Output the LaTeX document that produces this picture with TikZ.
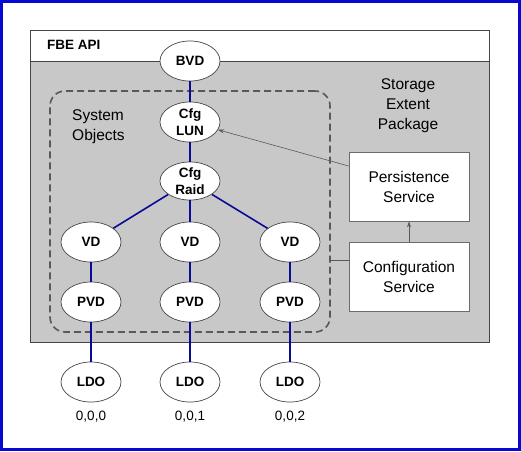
\documentclass[tikz,border=0pt]{standalone}
\usepackage{fontspec}
\setmainfont{Liberation Sans}
\usetikzlibrary{arrows.meta,calc,shapes.geometric}
\definecolor{frameblue}{RGB}{8,8,210}
\definecolor{pkggray}{RGB}{200,200,200}
\definecolor{linkblue}{RGB}{10,10,150}
\definecolor{edgegray}{RGB}{70,70,70}
\begin{document}
\begin{tikzpicture}[x=1pt,y=-1pt,
  obj/.style={ellipse,draw=edgegray,fill=white,line width=0.7pt,minimum width=60pt,minimum height=40pt,inner sep=0pt,font=\fontsize{13.5}{16.5}\selectfont\bfseries,align=center},
  svc/.style={rectangle,draw=edgegray!80,fill=white,line width=0.7pt,minimum width=120pt,minimum height=69pt,inner sep=0pt,font=\fontsize{15.5}{20}\selectfont,align=center},
  link/.style={draw=linkblue,line width=1.6pt},
  thin/.style={draw=edgegray!90,line width=0.6pt},
  lbl/.style={font=\fontsize{15.5}{20}\selectfont,align=center,inner sep=0pt}
]
\useasboundingbox (0,0) rectangle (521,451);
\fill[white] (0,0) rectangle (521,451);
\draw[frameblue,line width=3pt] (1.5,1.5) rectangle (519.5,449.5);
% FBE API package
\draw[edgegray,line width=0.8pt,fill=white] (30,30) rectangle (489,342);
\draw[edgegray,line width=0.8pt,fill=pkggray] (30,61) rectangle (489,342);
\node[anchor=west,font=\fontsize{13.5}{16}\selectfont\bfseries,inner sep=0pt] (api) at (47,45) {FBE API};
% system objects dashed box
\node[draw=edgegray!90,dash pattern=on 7pt off 4pt,line width=1.6pt,rounded corners=15pt,minimum width=280pt,minimum height=241pt,inner sep=0pt] (sys) at (190,211.5) {};
\node[lbl,align=left,anchor=west] (systxt) at (72,127) {System\\Objects};
\node[lbl] (sep) at (408,106) {Storage\\Extent\\Package};
% services
\node[svc] (pers) at (409,186.5) {Persistence\\Service};
\node[svc] (conf) at (409,277) {Configuration\\Service};
% objects
\node[obj] (bvd) at (190,61) {BVD};
\node[obj] (lun) at (190,122) {Cfg\\LUN};
\node[obj,minimum height=38pt] (raid) at (190,181) {Cfg\\Raid};
\node[obj] (vd1) at (91,242) {VD};
\node[obj] (vd2) at (190,242) {VD};
\node[obj] (vd3) at (290,242) {VD};
\node[obj] (pvd1) at (91,302) {PVD};
\node[obj] (pvd2) at (190,302) {PVD};
\node[obj] (pvd3) at (290,302) {PVD};
\node[obj] (ldo1) at (91,382) {LDO};
\node[obj] (ldo2) at (190,382) {LDO};
\node[obj] (ldo3) at (290,382) {LDO};
\node[lbl,font=\fontsize{13.5}{16}\selectfont] (a1) at (91,417) {0,0,0};
\node[lbl,font=\fontsize{13.5}{16}\selectfont] (a2) at (190,417) {0,0,1};
\node[lbl,font=\fontsize{13.5}{16}\selectfont] (a3) at (290,417) {0,0,2};
% blue links
\path[link] (bvd) -- (lun);
\path[link] (lun) -- (raid);
\path[link] (raid) -- (vd1);
\path[link] (raid) -- (vd2);
\path[link] (raid) -- (vd3);
\path[link] (vd1) -- (pvd1);
\path[link] (vd2) -- (pvd2);
\path[link] (vd3) -- (pvd3);
\path[link] (pvd1) -- (ldo1);
\path[link] (pvd2) -- (ldo2);
\path[link] (pvd3) -- (ldo3);
% gray connectors
\coordinate (pfrom) at ([yshift=20.5pt]pers.west);
\path[thin,-{Stealth[length=6pt,width=4pt]}] (pfrom) -- (lun);
\path[thin,-{Stealth[length=6pt,width=4pt]}] (conf) -- (pers);
\coordinate (cfrom) at ([yshift=17pt]conf.west);
\path[thin] (cfrom) -- (sys.east |- cfrom);
\end{tikzpicture}
\end{document}
